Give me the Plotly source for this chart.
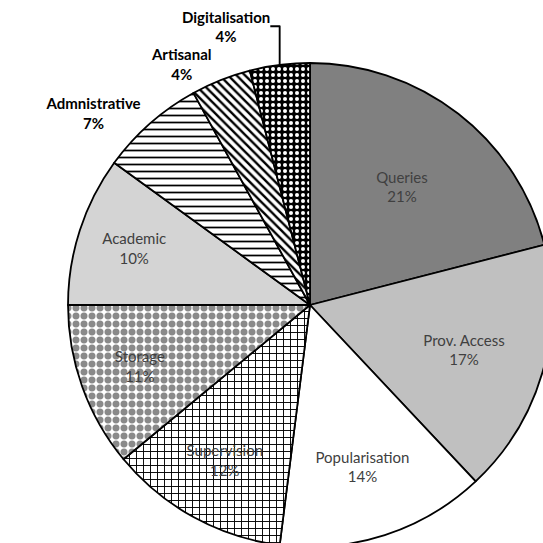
import plotly.graph_objects as go

labels = ["Queries", "Prov. Access", "Popularisation", "Supervision", "Storage",
          "Academic", "Admnistrative", "Artisanal", "Digitalisation"]
values = [21, 17, 14, 12, 11, 10, 7, 4, 4]

colors = ["#808080", "#c0c0c0", "#ffffff", "#ffffff", "#ffffff",
          "#d4d4d4", "#ffffff", "#ffffff", "#000000"]
shapes = ["", "", "", "+", ".", "", "-", "\\", "."]
fgcolors = ["#808080", "#c0c0c0", "#ffffff", "#000000", "#8a8a8a",
            "#d4d4d4", "#000000", "#000000", "#ffffff"]
sizes = [8, 8, 8, 7, 8, 8, 7, 6, 6]
solidity = [0.3, 0.3, 0.3, 0.25, 0.6, 0.3, 0.25, 0.4, 0.35]
positions = ["inside"] * 6 + ["outside"] * 3

templates = []
for lab, pos in zip(labels, positions):
    if pos == "inside":
        templates.append("%{label}<br>%{value}%")
    else:
        templates.append("<b>%{label}</b><br><b>%{value}%</b>")

W, H = 560, 560
cx, cy, r = 310, 305, 242

fig = go.Figure(go.Pie(
    labels=labels,
    values=values,
    sort=False,
    direction="clockwise",
    rotation=0,
    marker=dict(
        colors=colors,
        line=dict(color="#000000", width=1.8),
        pattern=dict(shape=shapes, fgcolor=fgcolors, bgcolor=colors,
                     size=sizes, solidity=solidity, fillmode="replace"),
    ),
    textposition=positions,
    texttemplate=templates,
    insidetextorientation="horizontal",
    insidetextfont=dict(family="Lato", size=15, color="#404040"),
    outsidetextfont=dict(family="Lato", size=15, color="#000000"),
    domain=dict(x=[(cx - r) / W, (cx + r) / W],
                y=[1 - (cy + r) / H, 1 - (cy - r) / H]),
    showlegend=False,
))

fig.update_layout(
    width=W, height=H,
    margin=dict(l=0, r=0, t=0, b=0),
    paper_bgcolor="white",
    plot_bgcolor="white",
    font=dict(family="Lato"),
)

fig.write_html(
    "out.html",
    config={"displayModeBar": False},
    post_script="document.body.style.margin='0';document.body.style.overflow='hidden';"
                "document.documentElement.style.overflow='hidden';",
)
